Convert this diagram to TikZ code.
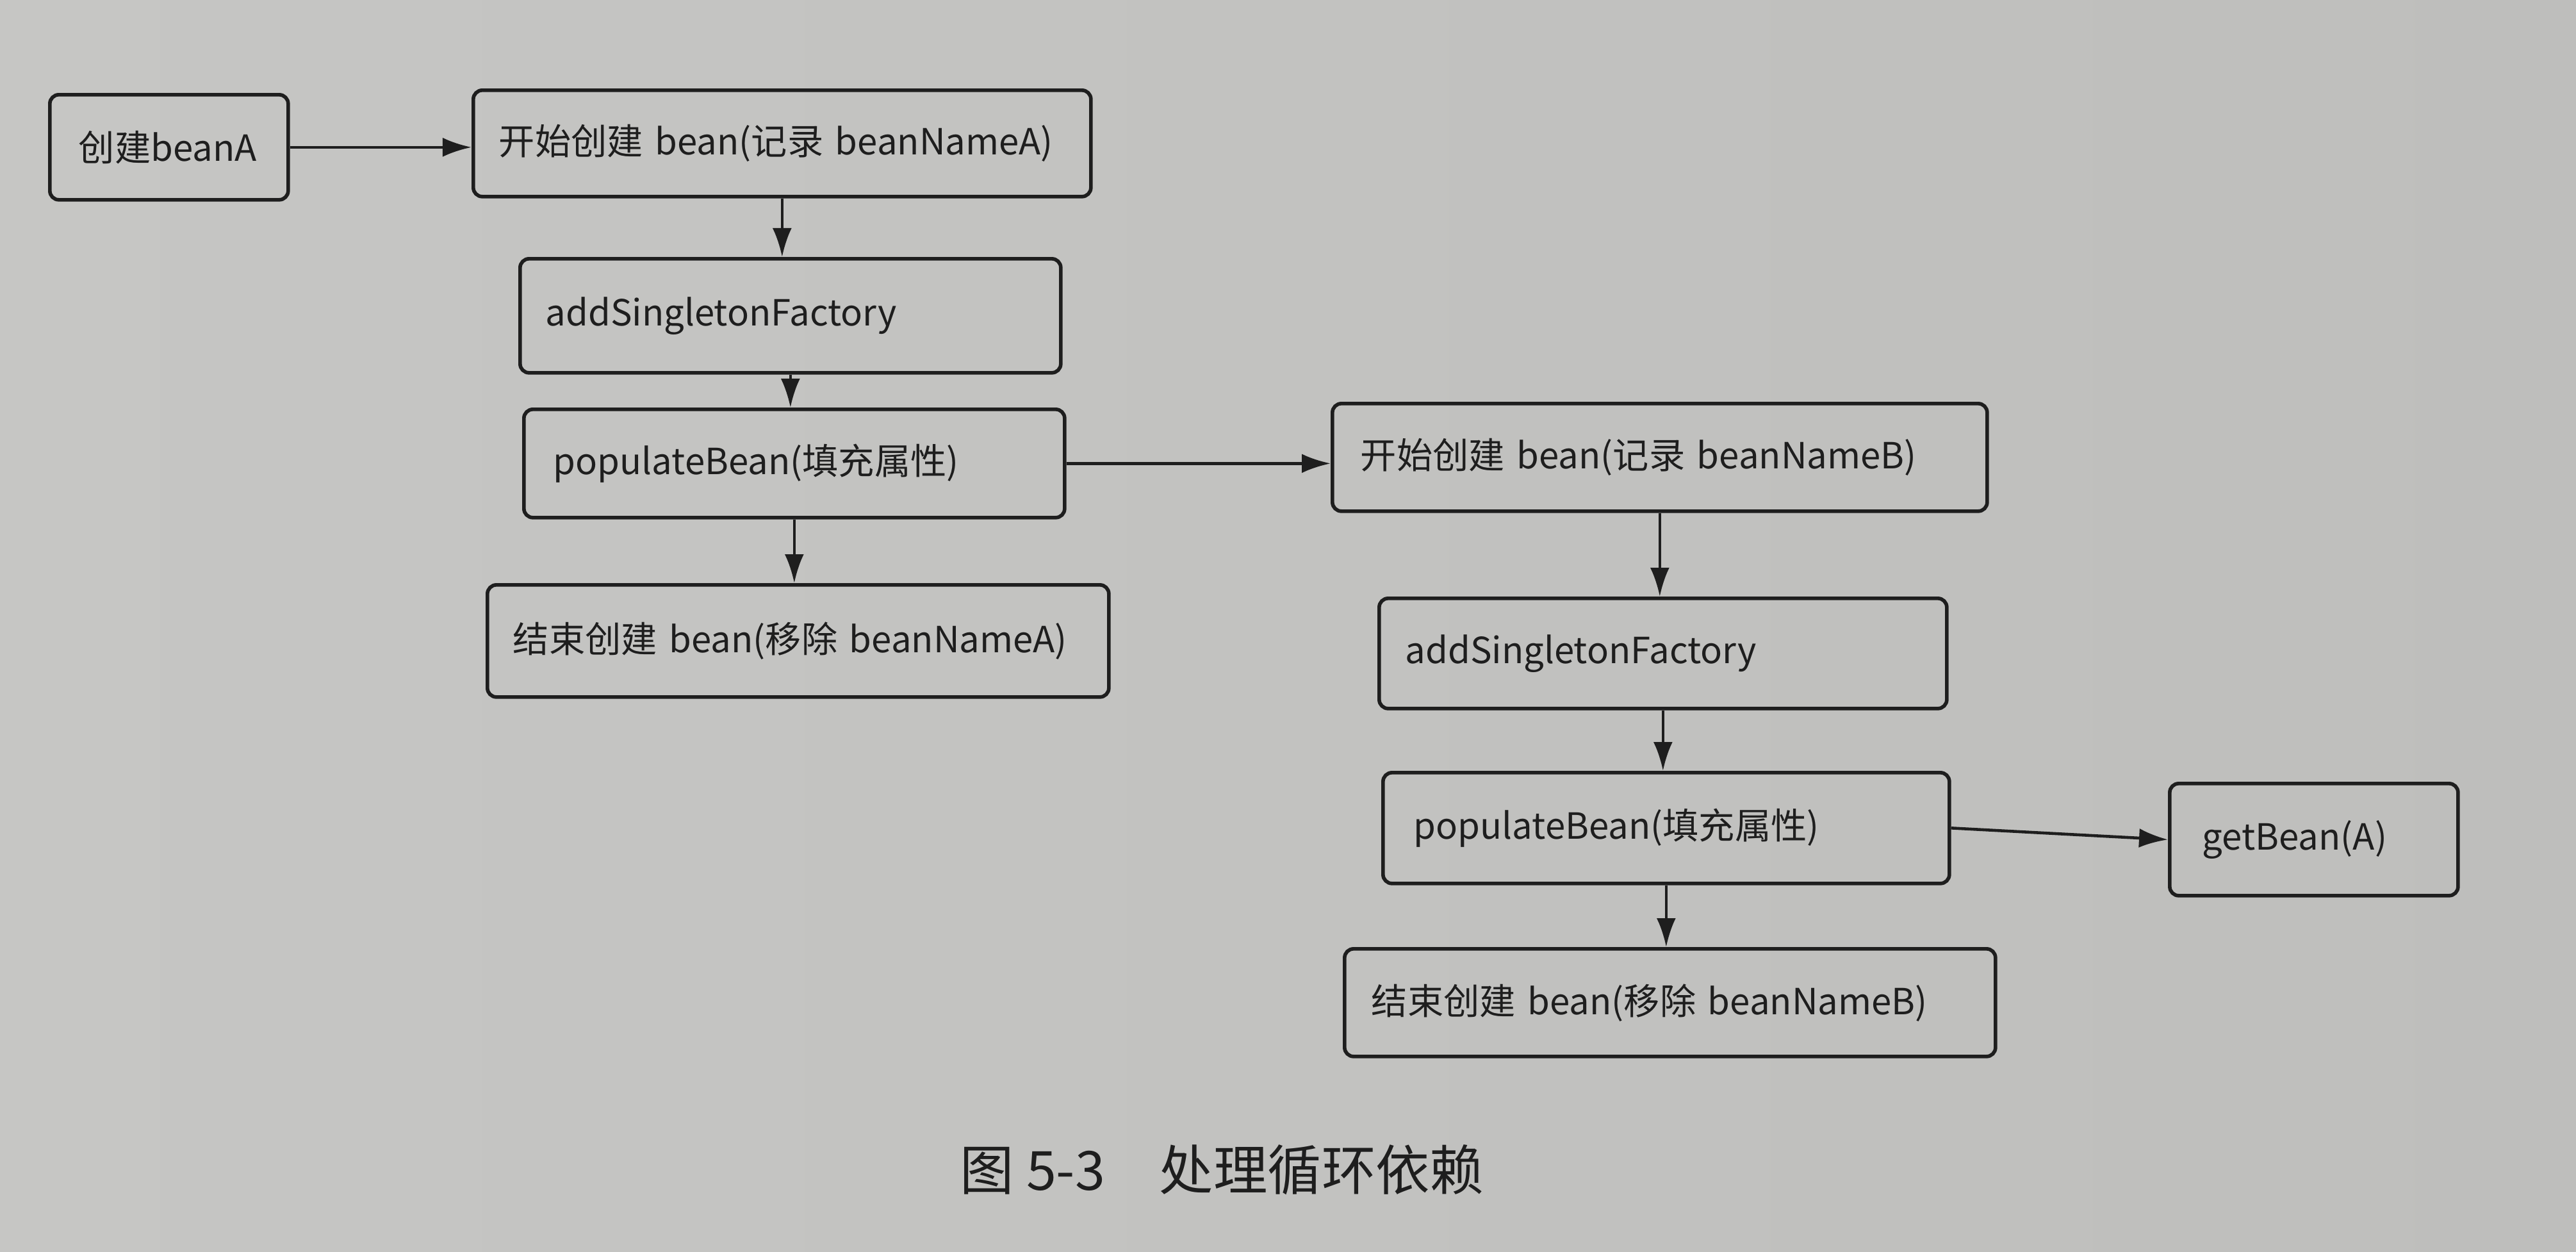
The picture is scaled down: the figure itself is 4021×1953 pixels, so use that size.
\documentclass[tikz,border=0pt]{standalone}
\usepackage{fontspec}
\setmainfont{Noto Sans CJK SC}
\usetikzlibrary{arrows.meta}
\definecolor{paperA}{HTML}{C6C6C4}
\definecolor{paperB}{HTML}{CFCFCD}
\definecolor{paperC}{HTML}{BEBEBC}
\definecolor{ink}{HTML}{1E1E1E}
\tikzset{
  box/.style={draw=ink, line width=1.6pt, rounded corners=4pt, anchor=north west,
    inner ysep=0pt, align=left, text=ink, font=\fontsize{16pt}{20pt}\selectfont},
  flow/.style={draw=ink, line width=1.3pt, -{Latex[length=0.45cm,width=0.3cm]}},
  captext/.style={anchor=west, inner sep=0pt, text=ink, font=\fontsize{24pt}{28pt}\selectfont},
}
\newcommand\bx[7]{%
  \pgfmathsetmacro\bxw{(#4-#2)*0.01}%
  \pgfmathsetmacro\bxh{(#5-#3)*0.01}%
  \pgfmathsetmacro\bxp{#6*0.01}%
  \pgfmathsetmacro\bxt{(#4-#2-2*#6)*0.01}%
  \node[box, minimum width=\bxw cm, minimum height=\bxh cm, inner xsep=\bxp cm, text width=\bxt cm] (#1) at (#2,#3) {\mbox{#7}};%
}
\begin{document}
\begin{tikzpicture}[x=0.01cm,y=-0.01cm]
\useasboundingbox (0,0) rectangle (4021,1953);
\shade[left color=paperA, middle color=paperB, right color=paperC] (0,0) rectangle (4021,1953);
% left column
\bx{b1}{75}{145}{447}{309}{45}{创建beanA}
\bx{b2}{736}{138}{1700}{304}{40}{开始创建 bean(记录 beanNameA)}
\bx{b3}{809}{401}{1653}{579}{40}{addSingletonFactory}
\bx{b4}{815}{636}{1659}{805}{46}{populateBean(填充属性)}
\bx{b5}{758}{910}{1728}{1085}{40}{结束创建 bean(移除 beanNameA)}
% right column
\bx{b6}{2077}{627}{3099}{795}{44}{开始创建 bean(记录 beanNameB)}
\bx{b7}{2150}{931}{3036}{1103}{41}{addSingletonFactory}
\bx{b8}{2156}{1203}{3040}{1376}{48}{populateBean(填充属性)}
\bx{b9}{2096}{1478}{3112}{1646}{42}{结束创建 bean(移除 beanNameB)}
\bx{b10}{3384}{1220}{3834}{1395}{51}{getBean(A)}
% connectors
\draw[flow] (b1.east) -- (b1.east -| b2.west);
\draw[flow] (b2.south) -- (b2.south |- b3.north);
\draw[flow] (b3.south) -- (b3.south |- b4.north);
\draw[flow] (b4.south) -- (b4.south |- b5.north);
\draw[flow] (b4.east) -- (b4.east -| b6.west);
\draw[flow] (b6.south) -- (b6.south |- b7.north);
\draw[flow] (b7.south) -- (b7.south |- b8.north);
\draw[flow] (b8.south) -- (b8.south |- b9.north);
\draw[flow] (b8.east) -- (b10.west);
% caption
\node[captext] (cap) at (1498,1826) {图 5-3\hspace{0.85cm}处理循环依赖};
\end{tikzpicture}
\end{document}
